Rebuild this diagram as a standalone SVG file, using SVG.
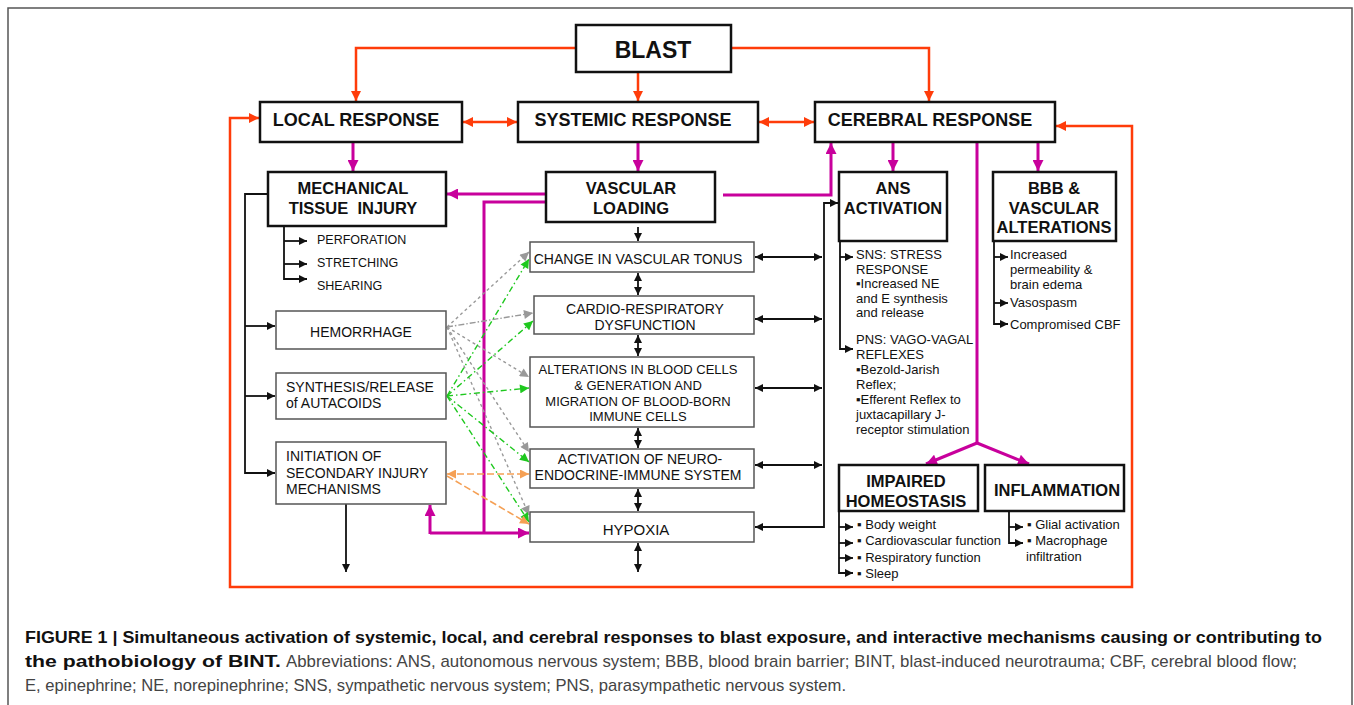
<svg xmlns="http://www.w3.org/2000/svg" width="1354" height="705" viewBox="0 0 1354 705">
<style>
text{font-family:"Liberation Sans",Arial,sans-serif;fill:#111}
.b{font-weight:bold}
.t18{font-size:18px;font-weight:bold}
.t16{font-size:16.5px;font-weight:bold}
.t14{font-size:14px}
.t13{font-size:13px}
.t12{font-size:12.5px}
.mid{text-anchor:middle}
.bx{fill:#fff;stroke:#111;stroke-width:2.5}
.gx{fill:#fff;stroke:#555;stroke-width:1.5}
.red{fill:none;stroke:#ff3c0a;stroke-width:2.5}
.mag{fill:none;stroke:#c8009c;stroke-width:3}
.blk{fill:none;stroke:#111;stroke-width:1.8}
.gry{fill:none;stroke:#999;stroke-width:1.4;stroke-dasharray:3,3}
.gryd{fill:none;stroke:#999;stroke-width:1.4;stroke-dasharray:6,2,1.5,2}
.grn{fill:none;stroke:#1ec81e;stroke-width:1.4;stroke-dasharray:6,3,1.5,3}
.org{fill:none;stroke:#f5a055;stroke-width:1.6;stroke-dasharray:7,3}
.cap{font-size:17px}
</style>
<defs>
<marker id="ak" viewBox="0 0 10 10" refX="10" refY="5" markerWidth="9" markerHeight="8" markerUnits="userSpaceOnUse" orient="auto-start-reverse"><path d="M0,0L10,5L0,10z" fill="#111"/></marker>
<marker id="ar" viewBox="0 0 10 10" refX="10" refY="5" markerWidth="11" markerHeight="10" markerUnits="userSpaceOnUse" orient="auto-start-reverse"><path d="M0,0L10,5L0,10z" fill="#ff3c0a"/></marker>
<marker id="am" viewBox="0 0 10 10" refX="10" refY="5" markerWidth="12" markerHeight="11" markerUnits="userSpaceOnUse" orient="auto-start-reverse"><path d="M0,0L10,5L0,10z" fill="#c8009c"/></marker>
<marker id="ag" viewBox="0 0 10 10" refX="10" refY="5" markerWidth="10" markerHeight="9" markerUnits="userSpaceOnUse" orient="auto-start-reverse"><path d="M0,0L10,5L0,10z" fill="#999"/></marker>
<marker id="an" viewBox="0 0 10 10" refX="10" refY="5" markerWidth="10" markerHeight="9" markerUnits="userSpaceOnUse" orient="auto-start-reverse"><path d="M0,0L10,5L0,10z" fill="#1ec81e"/></marker>
<marker id="ao" viewBox="0 0 10 10" refX="10" refY="5" markerWidth="10" markerHeight="9" markerUnits="userSpaceOnUse" orient="auto-start-reverse"><path d="M0,0L10,5L0,10z" fill="#f5a055"/></marker>
</defs>
<rect width="1354" height="705" fill="#fff"/>
<path d="M8,710V8H1352V710" fill="none" stroke="#555" stroke-width="1.5"/>

<g id="connectors">
<!-- red -->
<path class="red" d="M576,48H356V101" marker-end="url(#ar)"/>
<path class="red" d="M638,72V101" marker-end="url(#ar)"/>
<path class="red" d="M731,48H929V101" marker-end="url(#ar)"/>
<path class="red" d="M463,122H517" marker-start="url(#ar)" marker-end="url(#ar)"/>
<path class="red" d="M759,122H814" marker-start="url(#ar)" marker-end="url(#ar)"/>
<path class="red" d="M1056,126H1132V587H230V118H259" marker-start="url(#ar)" marker-end="url(#ar)"/>
<!-- magenta -->
<path class="mag" d="M353,142V171" marker-end="url(#am)"/>
<path class="mag" d="M638,142V171" marker-end="url(#am)"/>
<path class="mag" d="M546,194H447" marker-end="url(#am)"/>
<path class="mag" d="M723,195H831V143" marker-end="url(#am)"/>
<path class="mag" d="M546,202H484V533"/>
<path class="mag" d="M430,533H529" marker-end="url(#am)"/>
<path class="mag" d="M430,534V505" marker-end="url(#am)"/>
<path class="mag" d="M893,142V171" marker-end="url(#am)"/>
<path class="mag" d="M1038,142V171" marker-end="url(#am)"/>
<path class="mag" d="M977,142V443"/>
<path class="mag" d="M977,443L926,464" marker-end="url(#am)"/>
<path class="mag" d="M977,443L1029,464" marker-end="url(#am)"/>
<!-- black -->
<path class="blk" d="M268,194H245V473H275" marker-end="url(#ak)"/>
<path class="blk" d="M245,326H275" marker-end="url(#ak)"/>
<path class="blk" d="M245,396H275" marker-end="url(#ak)"/>
<path class="blk" d="M284,226V279H307" marker-end="url(#ak)"/>
<path class="blk" d="M284,241H307" marker-end="url(#ak)"/>
<path class="blk" d="M284,264H307" marker-end="url(#ak)"/>
<path class="blk" d="M346,504V572" marker-end="url(#ak)"/>
<path class="blk" d="M638,227V241" marker-end="url(#ak)"/>
<path class="blk" d="M638,273V295" marker-start="url(#ak)" marker-end="url(#ak)"/>
<path class="blk" d="M638,335V356" marker-start="url(#ak)" marker-end="url(#ak)"/>
<path class="blk" d="M638,428V448" marker-start="url(#ak)" marker-end="url(#ak)"/>
<path class="blk" d="M638,489V511" marker-start="url(#ak)" marker-end="url(#ak)"/>
<path class="blk" d="M638,543V572" marker-start="url(#ak)" marker-end="url(#ak)"/>
<path class="blk" d="M755,257H822" marker-start="url(#ak)" marker-end="url(#ak)"/>
<path class="blk" d="M755,319H822" marker-start="url(#ak)" marker-end="url(#ak)"/>
<path class="blk" d="M755,388H822" marker-start="url(#ak)" marker-end="url(#ak)"/>
<path class="blk" d="M755,465H822" marker-start="url(#ak)" marker-end="url(#ak)"/>
<path class="blk" d="M755,527H824V203H838" marker-start="url(#ak)" marker-end="url(#ak)"/>
<path class="blk" d="M840,241V349H853" marker-end="url(#ak)"/>
<path class="blk" d="M840,257H853" marker-end="url(#ak)"/>
<path class="blk" d="M994,241V324H1008" marker-end="url(#ak)"/>
<path class="blk" d="M994,257H1008" marker-end="url(#ak)"/>
<path class="blk" d="M994,303H1008" marker-end="url(#ak)"/>
<path class="blk" d="M839,511V573H853" marker-end="url(#ak)"/>
<path class="blk" d="M839,527H853" marker-end="url(#ak)"/>
<path class="blk" d="M839,543H853" marker-end="url(#ak)"/>
<path class="blk" d="M839,558H853" marker-end="url(#ak)"/>
<path class="blk" d="M1009,511V543H1023" marker-end="url(#ak)"/>
<path class="blk" d="M1009,527H1023" marker-end="url(#ak)"/>
<!-- gray from hemorrhage -->
<path class="gry" d="M447,327L529,252" marker-end="url(#ag)"/>
<path class="gryd" d="M447,327L533,313" marker-end="url(#ag)"/>
<path class="gry" d="M447,327L529,377" marker-end="url(#ag)"/>
<path class="gry" d="M447,327L529,452" marker-end="url(#ag)"/>
<path class="gry" d="M447,327L529,515" marker-end="url(#ag)"/>
<!-- green from synthesis -->
<path class="grn" d="M447,396L529,259" marker-end="url(#an)"/>
<path class="grn" d="M447,396L533,321" marker-end="url(#an)"/>
<path class="grn" d="M447,396L529,388" marker-end="url(#an)"/>
<path class="grn" d="M447,396L529,462" marker-end="url(#an)"/>
<path class="grn" d="M447,396L529,522" marker-end="url(#an)"/>
<!-- orange from initiation -->
<path class="org" d="M447,474H529" marker-start="url(#ao)" marker-end="url(#ao)"/>
<path class="org" d="M447,476L529,524" marker-end="url(#ao)"/>
</g>

<g id="blast"><rect class="bx" x="576" y="25" width="155" height="47"/><text class="b mid" x="653" y="58" font-size="23">BLAST</text></g>
<g id="local"><rect class="bx" x="260" y="102" width="202" height="40"/><text class="t18 mid" x="356" y="126">LOCAL RESPONSE</text></g>
<g id="systemic"><rect class="bx" x="518" y="102" width="240" height="40"/><text class="t18 mid" x="633" y="126">SYSTEMIC RESPONSE</text></g>
<g id="cerebral"><rect class="bx" x="815" y="102" width="240" height="40"/><text class="t18 mid" x="930" y="126">CEREBRAL RESPONSE</text></g>

<g id="mechanical"><rect class="bx" x="268" y="172" width="178" height="54"/><text class="t16 mid" x="353" y="194">MECHANICAL</text><text class="t16 mid" x="353" y="214" xml:space="preserve">TISSUE  INJURY</text></g>
<g id="mech-items" class="t12"><text class="t12" x="317" y="244">PERFORATION</text><text class="t12" x="317" y="267">STRETCHING</text><text class="t12" x="317" y="290">SHEARING</text></g>
<g id="vascular"><rect class="bx" x="546" y="172" width="169" height="50"/><text class="t16 mid" x="631" y="194">VASCULAR</text><text class="t16 mid" x="631" y="214">LOADING</text></g>
<g id="ans"><rect class="bx" x="839" y="172" width="108" height="69"/><text class="t16 mid" x="893" y="194">ANS</text><text class="t16 mid" x="893" y="214">ACTIVATION</text></g>
<g id="ans-items"><text class="t13" x="856" y="259">SNS: STRESS</text><text class="t13" x="856" y="274">RESPONSE</text><text class="t13" x="856" y="288">▪Increased NE</text><text class="t13" x="856" y="303">and E synthesis</text><text class="t13" x="856" y="317">and release</text><text class="t13" x="856" y="344">PNS: VAGO-VAGAL</text><text class="t13" x="856" y="359">REFLEXES</text><text class="t13" x="856" y="374">▪Bezold-Jarish</text><text class="t13" x="856" y="389">Reflex;</text><text class="t13" x="856" y="404">▪Efferent Reflex to</text><text class="t13" x="856" y="419">juxtacapillary J-</text><text class="t13" x="856" y="434">receptor stimulation</text></g>
<g id="bbb"><rect class="bx" x="993" y="172" width="123" height="69"/><text class="t16 mid" x="1054" y="194">BBB &amp;</text><text class="t16 mid" x="1054" y="214">VASCULAR</text><text class="t16 mid" x="1054" y="233">ALTERATIONS</text></g>
<g id="bbb-items"><text class="t13" x="1010" y="259">Increased</text><text class="t13" x="1010" y="274">permeability &amp;</text><text class="t13" x="1010" y="289">brain edema</text><text class="t13" x="1010" y="307">Vasospasm</text><text class="t13" x="1010" y="329">Compromised CBF</text></g>

<g id="hemorrhage"><rect class="gx" x="276" y="311" width="170" height="38"/><text class="t14 mid" x="361" y="337">HEMORRHAGE</text></g>
<g id="synthesis"><rect class="gx" x="276" y="373" width="170" height="46"/><text class="t14" x="286" y="392">SYNTHESIS/RELEASE</text><text class="t14" x="286" y="408">of AUTACOIDS</text></g>
<g id="initiation"><rect class="gx" x="276" y="442" width="170" height="62"/><text class="t14" x="286" y="461">INITIATION OF</text><text class="t14" x="286" y="478">SECONDARY INJURY</text><text class="t14" x="286" y="494">MECHANISMS</text></g>

<g id="tonus"><rect class="gx" x="530" y="242" width="224" height="30"/><text class="t14 mid" x="638" y="264">CHANGE IN VASCULAR TONUS</text></g>
<g id="cardio"><rect class="gx" x="534" y="296" width="220" height="38"/><text class="t14 mid" x="645" y="314">CARDIO-RESPIRATORY</text><text class="t14 mid" x="645" y="330">DYSFUNCTION</text></g>
<g id="alterations"><rect class="gx" x="530" y="357" width="224" height="70"/><text class="t13 mid" x="638" y="374">ALTERATIONS IN BLOOD CELLS</text><text class="t13 mid" x="638" y="390">&amp; GENERATION AND</text><text class="t13 mid" x="638" y="406">MIGRATION OF BLOOD-BORN</text><text class="t13 mid" x="638" y="421">IMMUNE CELLS</text></g>
<g id="activation"><rect class="gx" x="530" y="449" width="224" height="39"/><text class="t14 mid" x="640" y="464">ACTIVATION OF NEURO-</text><text class="t14 mid" x="638" y="480">ENDOCRINE-IMMUNE SYSTEM</text></g>
<g id="hypoxia"><rect class="gx" x="530" y="512" width="224" height="30"/><text class="mid" x="636" y="535" font-size="15">HYPOXIA</text></g>

<g id="impaired"><rect class="bx" x="839" y="465" width="139" height="46"/><text class="t16 mid" x="906" y="487">IMPAIRED</text><text class="t16 mid" x="906" y="507">HOMEOSTASIS</text></g>
<g id="impaired-items"><text class="t13" x="857" y="529">▪ Body weight</text><text class="t13" x="857" y="545">▪ Cardiovascular function</text><text class="t13" x="857" y="562">▪ Respiratory function</text><text class="t13" x="857" y="578">▪ Sleep</text></g>
<g id="inflammation"><rect class="bx" x="985" y="465" width="139" height="46"/><text class="t16 mid" x="1057" y="496">INFLAMMATION</text></g>
<g id="inflammation-items"><text class="t13" x="1027" y="529">▪ Glial activation</text><text class="t13" x="1027" y="545">▪ Macrophage</text><text class="t13" x="1026" y="561">infiltration</text></g>

<g id="caption">
<text class="cap b" x="25" y="643" fill="#2b2b2b" textLength="1297" lengthAdjust="spacingAndGlyphs">FIGURE 1 | Simultaneous activation of systemic, local, and cerebral responses to blast exposure, and interactive mechanisms causing or contributing to</text>
<text class="cap b" x="25" y="667" textLength="256" lengthAdjust="spacingAndGlyphs">the pathobiology of BINT.</text>
<text class="cap" x="286" y="667" style="fill:#444" textLength="1011" lengthAdjust="spacingAndGlyphs">Abbreviations: ANS, autonomous nervous system; BBB, blood brain barrier; BINT, blast-induced neurotrauma; CBF, cerebral blood flow;</text>
<text class="cap" x="25" y="691" style="fill:#444" textLength="821" lengthAdjust="spacingAndGlyphs">E, epinephrine; NE, norepinephrine; SNS, sympathetic nervous system; PNS, parasympathetic nervous system.</text>
</g>
</svg>
